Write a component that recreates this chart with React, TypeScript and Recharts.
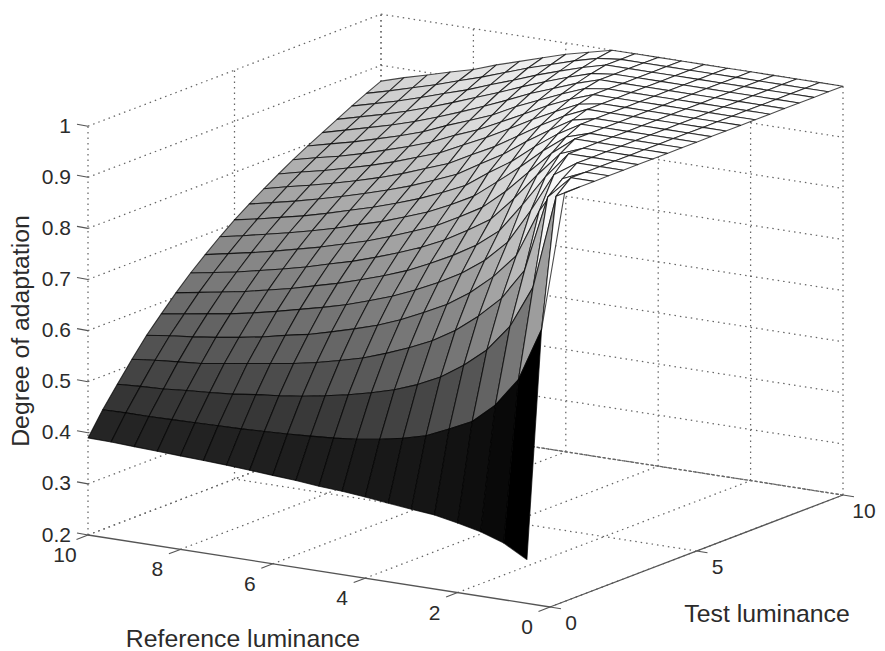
import { ScatterChart, Scatter, XAxis, YAxis } from 'recharts'

const W = 885
const H = 651

const refLuminance = [0, 0.5, 1, 1.5, 2, 2.5, 3, 3.5, 4, 4.5, 5, 5.5, 6, 6.5, 7, 7.5, 8, 8.5, 9, 9.5, 10]
const testLuminance = [0, 0.5, 1, 1.5, 2, 2.5, 3, 3.5, 4, 4.5, 5, 5.5, 6, 6.5, 7, 7.5, 8, 8.5, 9, 9.5, 10]

// degree of adaptation, one row per reference luminance, columns follow testLuminance
const surfaceRows: (number | null)[][] = [
  [null, 1, 1, 1, 1, 1, 1, 1, 1, 1, 1, 1, 1, 1, 1, 1, 1, 1, 1, 1, 1],
  [.286, .725, .975, 1, 1, 1, 1, 1, 1, 1, 1, 1, 1, 1, 1, 1, 1, 1, 1, 1, 1],
  [.311, .62, .79, .955, .98, 1, 1, 1, 1, 1, 1, 1, 1, 1, 1, 1, 1, 1, 1, 1, 1],
  [.326, .563, .706, .805, .91, .97, 1, 1, 1, 1, 1, 1, 1, 1, 1, 1, 1, 1, 1, 1, 1],
  [.336, .524, .653, .743, .815, .893, .948, .982, 1, 1, 1, 1, 1, 1, 1, 1, 1, 1, 1, 1, 1],
  [.345, .502, .616, .701, .767, .824, .886, .933, .965, .986, 1, 1, 1, 1, 1, 1, 1, 1, 1, 1, 1],
  [.349, .482, .586, .666, .729, .781, .828, .88, .921, .952, .974, .99, 1, 1, 1, 1, 1, 1, 1, 1, 1],
  [.354, .47, .564, .639, .699, .749, .793, .833, .876, .913, .942, .963, .98, .992, 1, 1, 1, 1, 1, 1, 1],
  [.359, .461, .547, .618, .676, .724, .766, .804, .838, .877, .906, .934, .955, .971, .984, .994, 1, 1, 1, 1, 1],
  [.363, .454, .534, .6, .655, .702, .743, .778, .812, .842, .877, .902, .927, .948, .964, .976, .986, .994, 1, 1, 1],
  [.366, .449, .523, .584, .637, .683, .722, .757, .788, .818, .845, .876, .899, .923, .941, .957, .969, .98, .988, .995, 1],
  [.37, .446, .514, .572, .623, .667, .705, .739, .77, .797, .824, .849, .876, .899, .918, .937, .952, .964, .974, .983, .989],
  [.373, .443, .506, .561, .61, .652, .69, .723, .753, .78, .805, .83, .852, .877, .896, .914, .932, .947, .959, .969, .978],
  [.376, .441, .5, .552, .598, .64, .676, .708, .737, .764, .789, .812, .835, .855, .878, .896, .913, .929, .942, .955, .964],
  [.379, .439, .495, .545, .589, .629, .664, .696, .724, .751, .774, .797, .818, .839, .858, .879, .895, .912, .926, .939, .95],
  [.381, .438, .489, .538, .579, .618, .652, .683, .711, .737, .761, .783, .803, .823, .842, .86, .878, .895, .909, .923, .936],
  [.383, .437, .485, .531, .571, .608, .642, .672, .7, .725, .748, .77, .79, .809, .828, .845, .862, .879, .895, .909, .92],
  [.385, .436, .482, .524, .564, .599, .632, .662, .689, .714, .736, .758, .778, .797, .814, .832, .848, .864, .88, .894, .908],
  [.387, .435, .478, .52, .558, .592, .624, .652, .679, .704, .726, .747, .767, .785, .802, .819, .836, .851, .866, .881, .895],
  [.389, .435, .476, .516, .553, .585, .616, .644, .67, .694, .716, .737, .757, .775, .792, .808, .824, .839, .854, .868, .883],
  [.39, .434, .473, .511, .547, .578, .608, .636, .661, .685, .707, .727, .746, .764, .781, .797, .812, .827, .842, .856, .869],
]

const zTicks = [0.2, 0.3, 0.4, 0.5, 0.6, 0.7, 0.8, 0.9, 1]
const refTicks = [0, 2, 4, 6, 8, 10]
const testTicks = [0, 5, 10]

const axisColor = '#555'
const gridColor = '#666'
const textColor = '#2b2b2b'
const fontFamily = '"Liberation Sans", Arial, sans-serif'

// matlab style box view, 3d point to chart units
const project = (r: number, t: number, z: number) => ({
  px: 550 - 46.2 * r + 29.3 * t,
  py: 607 - 7.2 * r - 11.2 * t - 511 * (z - 0.2),
})

const segment = (a: number[], b: number[], dash = '1.5 4', stroke = gridColor, width = 1.25) => {
  const p = project(a[0], a[1], a[2])
  const q = project(b[0], b[1], b[2])
  return { ...p, dx: q.px - p.px, dy: q.py - p.py, dash, stroke, width }
}

const gridLines = [
  ...zTicks.flatMap((z) => [
    segment([10, 0, z], [10, 10, z]),
    segment([10, 10, z], [0, 10, z]),
  ]),
  ...testTicks.flatMap((t) => [
    segment([10, t, 0.2], [10, t, 1]),
    segment([0, t, 0.2], [10, t, 0.2]),
  ]).filter((_, i) => i !== 1),
  ...refTicks.flatMap((r) => [
    segment([r, 10, 0.2], [r, 10, 1]),
    segment([r, 0, 0.2], [r, 10, 0.2]),
  ]),
  segment([0, 10, 0.2], [10, 10, 0.2], '3 1.8'),
]

const cells: any[] = []
for (let j = testLuminance.length - 2; j >= 0; j--) {
  for (let i = refLuminance.length - 2; i >= 0; i--) {
    const zs = [surfaceRows[i][j], surfaceRows[i + 1][j], surfaceRows[i + 1][j + 1], surfaceRows[i][j + 1]]
    if (zs.some((z) => z === null)) continue
    const rs = [refLuminance[i], refLuminance[i + 1], refLuminance[i + 1], refLuminance[i]]
    const ts = [testLuminance[j], testLuminance[j], testLuminance[j + 1], testLuminance[j + 1]]
    const pts = zs.map((z, k) => project(rs[k], ts[k], z as number))
    const level = Math.round((255 * ((zs[0] as number) - 0.286)) / 0.714)
    cells.push({
      px: pts[0].px,
      py: pts[0].py,
      offsets: pts.map((p) => [p.px - pts[0].px, p.py - pts[0].py]),
      fill: `rgb(${level},${level},${level})`,
    })
  }
}

const axisLines = [
  segment([10, 0, 0.2], [0, 0, 0.2], '', axisColor, 1.3),
  segment([0, 0, 0.2], [0, 10, 0.2], '', axisColor, 1.3),
  ...zTicks.map((z) => {
    const p = project(10, 0, z)
    return { ...p, dx: -11, dy: -2, dash: '', stroke: axisColor, width: 1.1 }
  }),
  ...refTicks.map((r) => {
    const p = project(r, 0, 0.2)
    return { ...p, dx: -11.5, dy: 4.4, dash: '', stroke: axisColor, width: 1.1 }
  }),
  ...testTicks.map((t) => {
    const p = project(0, t, 0.2)
    return { ...p, dx: 11, dy: 1.7, dash: '', stroke: axisColor, width: 1.1 }
  }),
]

const tickLabels = [
  ...zTicks.map((z) => {
    const p = project(10, 0, z)
    return { ...p, px: p.px - 17, py: p.py - 1, text: String(z), anchor: 'end', size: 21 }
  }),
  ...refTicks.map((r) => {
    const p = project(r, 0, 0.2)
    return { ...p, px: p.px - 23, py: p.py + 19.5, text: String(r), anchor: 'middle', size: 21 }
  }),
  ...testTicks.map((t) => {
    const p = project(0, t, 0.2)
    return { ...p, px: p.px + 21, py: p.py + 15, text: String(t), anchor: 'middle', size: 21 }
  }),
]

const titles = [
  { px: 243, py: 638, text: 'Reference luminance', rotate: 0, size: 24.8 },
  { px: 767, py: 613, text: 'Test luminance', rotate: 0, size: 24.8 },
  { px: 20, py: 331, text: 'Degree of adaptation', rotate: -90, size: 24.8 },
]

const Line3D = (p: any) => {
  const d = p.payload
  return (
    <line
      x1={p.cx}
      y1={p.cy}
      x2={p.cx + d.dx}
      y2={p.cy + d.dy}
      stroke={d.stroke}
      strokeWidth={d.width}
      strokeDasharray={d.dash || undefined}
    />
  )
}

const Cell3D = (p: any) => {
  const d = p.payload
  const points = d.offsets.map((o: number[]) => `${p.cx + o[0]},${p.cy + o[1]}`).join(' ')
  return <polygon points={points} fill={d.fill} stroke="#000" strokeOpacity={0.7} strokeWidth={1.1} strokeLinejoin="round" />
}

const Label = (p: any) => {
  const d = p.payload
  return (
    <text
      x={p.cx}
      y={p.cy}
      textAnchor={d.anchor || 'middle'}
      dominantBaseline="central"
      fontFamily={fontFamily}
      fontSize={d.size}
      fill={textColor}
      transform={d.rotate ? `rotate(${d.rotate} ${p.cx} ${p.cy})` : undefined}
    >
      {d.text}
    </text>
  )
}

export default function App() {
  return (
    <div style={{ position: 'absolute', left: 0, top: 0, width: W, height: H, background: '#fff' }}>
      <ScatterChart width={W} height={H} margin={{ top: 0, right: 0, bottom: 0, left: 0 }}>
        <XAxis type="number" dataKey="px" domain={[0, W]} hide />
        <YAxis type="number" dataKey="py" domain={[0, H]} reversed hide />
        <Scatter data={gridLines} shape={Line3D} isAnimationActive={false} />
        <Scatter data={cells} shape={Cell3D} isAnimationActive={false} />
        <Scatter data={axisLines} shape={Line3D} isAnimationActive={false} />
        <Scatter data={tickLabels} shape={Label} isAnimationActive={false} />
        <Scatter data={titles} shape={Label} isAnimationActive={false} />
      </ScatterChart>
    </div>
  )
}
